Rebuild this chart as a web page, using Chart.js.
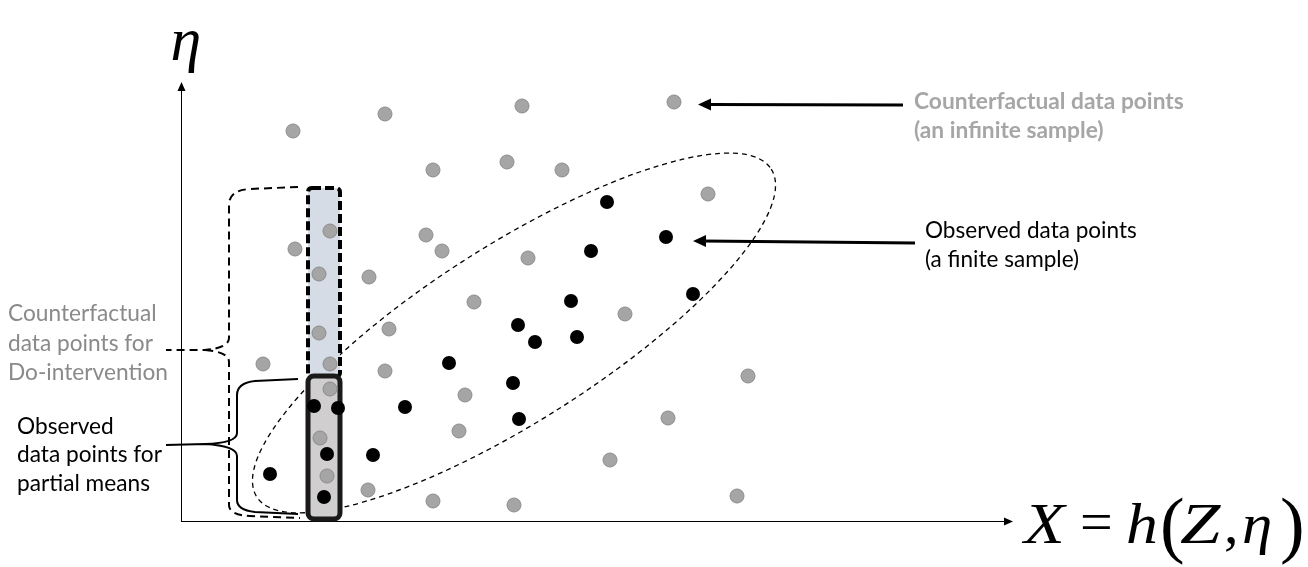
<!DOCTYPE html>
<html>
<head>
<meta charset="utf-8">
<script src="https://cdn.jsdelivr.net/npm/chart.js@4/dist/chart.umd.min.js"></script>
<style>
html,body{margin:0;padding:0;background:#fff;}
#wrap{width:1308px;height:567px;position:relative;}
</style>
</head>
<body>
<div id="wrap"><canvas id="c" width="1308" height="567"></canvas></div>
<script>
// Counterfactual (gray) sample: x = X value, y = eta value
const grayX = [112,204,341,493,252,326,381,527,114,149,245,261,347,138,188,293,444,138,208,82,149,204,149,284,567,278,487,139,429,146,187,252,333,556];
const grayY = [390,407,415,419,351,359,351,327,272,290,286,270,263,247,244,219,207,188,192,157,157,150,132,126,145,90,103,83,61,45,31,20,16,25];
// Observed (black) sample
const blackX = [426,485,410,512,390,337,354,396,268,332,133,157,224,338,146,192,89,143];
const blackY = [319,284,270,227,220,196,179,184,158,138,115,113,114,102,67,66,47,24];

const calloutInfinite = ["Counterfactual data points", "(an infinite sample)"];
const calloutFinite = ["Observed data points", "(a finite sample)"];
const labelDo = ["Counterfactual", "data points for", "Do-intervention"];
const labelPartial = ["Observed", "data points for", "partial means"];

const toPts = (xs, ys) => xs.map((x, i) => ({x: x, y: ys[i]}));

function fitFont(ctx, text, weight, family, targetW, base) {
  ctx.font = weight + ' ' + base + 'px ' + family;
  const w = ctx.measureText(text).width;
  return base * targetW / w;
}

function arrowHead(ctx, x, y, dir, len, half) {
  ctx.beginPath();
  ctx.moveTo(x, y);
  ctx.lineTo(x - len*Math.cos(dir) - half*Math.sin(dir), y - len*Math.sin(dir) + half*Math.cos(dir));
  ctx.lineTo(x - len*Math.cos(dir) + half*Math.sin(dir), y - len*Math.sin(dir) - half*Math.cos(dir));
  ctx.closePath();
  ctx.fill();
}

const decor = {
  id: 'decor',
  beforeDatasetsDraw(chart) {
    const ctx = chart.ctx;
    const xs = chart.scales.x, ys = chart.scales.y;
    const X = v => xs.getPixelForValue(v), Y = v => ys.getPixelForValue(v);
    ctx.save();
    // axes
    ctx.strokeStyle = '#000'; ctx.fillStyle = '#000'; ctx.lineWidth = 1;
    ctx.beginPath();
    ctx.moveTo(X(0)+0.5, Y(0)); ctx.lineTo(X(0)+0.5, 90);
    ctx.moveTo(X(0), Y(0)+0.5); ctx.lineTo(1005, Y(0)+0.5);
    ctx.stroke();
    arrowHead(ctx, X(0)+0.5, 82, -Math.PI/2, 9, 4);
    arrowHead(ctx, 1013, Y(0)+0.5, 0, 9, 4);

    // ellipse around observed sample
    ctx.beginPath();
    ctx.setLineDash([5,4]);
    ctx.lineWidth = 1.3;
    ctx.ellipse(X(333), Y(188), 305, 88, -32.5*Math.PI/180, 0, Math.PI*2);
    ctx.stroke();

    // dashed brace (do-intervention)
    ctx.setLineDash([8,5]);
    ctx.lineWidth = 2;
    ctx.beginPath();
    ctx.moveTo(298,187); ctx.lineTo(250,189);
    ctx.quadraticCurveTo(229,190,229,205);
    ctx.lineTo(229,338);
    ctx.quadraticCurveTo(229,348,205,350);
    ctx.lineTo(166,350);
    ctx.moveTo(205,350);
    ctx.quadraticCurveTo(229,352,229,362);
    ctx.lineTo(229,505);
    ctx.quadraticCurveTo(229,515,250,516);
    ctx.lineTo(300,518);
    ctx.stroke();

    // solid brace (partial means)
    ctx.setLineDash([]);
    ctx.lineWidth = 2;
    ctx.beginPath();
    ctx.moveTo(298,379); ctx.lineTo(255,381);
    ctx.quadraticCurveTo(237,383,237,395);
    ctx.lineTo(237,433);
    ctx.quadraticCurveTo(237,443,205,444);
    ctx.lineTo(166,445);
    ctx.moveTo(205,444);
    ctx.quadraticCurveTo(237,446,237,456);
    ctx.lineTo(237,500);
    ctx.quadraticCurveTo(237,510,255,512);
    ctx.lineTo(298,514);
    ctx.stroke();

    // column for do-intervention (blue, dashed)
    ctx.beginPath();
    ctx.roundRect(308,188,32,189,4);
    ctx.fillStyle = '#D6DCE5'; ctx.fill();
    ctx.setLineDash([9,4]); ctx.lineWidth = 4; ctx.strokeStyle = '#000';
    ctx.stroke();
    // column for partial means (gray, solid)
    ctx.beginPath();
    ctx.roundRect(308,376,32,143,6);
    ctx.fillStyle = '#D0CECE'; ctx.fill();
    ctx.setLineDash([]); ctx.lineWidth = 5; ctx.strokeStyle = '#1a1a1a';
    ctx.stroke();
    ctx.restore();
  },
  afterDatasetsDraw(chart) {
    const ctx = chart.ctx;
    ctx.save();
    ctx.fillStyle = '#000'; ctx.strokeStyle = '#000';
    // callout arrows
    ctx.lineWidth = 3;
    ctx.beginPath(); ctx.moveTo(903,105); ctx.lineTo(708,104.5); ctx.stroke();
    arrowHead(ctx, 698, 104.5, Math.PI, 13, 6);
    ctx.beginPath(); ctx.moveTo(915,243); ctx.lineTo(703,241); ctx.stroke();
    arrowHead(ctx, 693, 241, Math.PI, 13, 6);

    const fam = 'Lato, "Open Sans", sans-serif';
    ctx.textBaseline = 'middle';
    ctx.textAlign = 'left';
    // top-right callout (gray bold)
    let fs = fitFont(ctx, calloutInfinite[0], 'bold', fam, 270, 20);
    ctx.font = 'bold ' + fs + 'px ' + fam;
    ctx.fillStyle = '#A6A6A6';
    ctx.fillText(calloutInfinite[0], 914, 102);
    ctx.fillText(calloutInfinite[1], 914, 131);
    // observed callout
    fs = fitFont(ctx, calloutFinite[0], 'normal', fam, 212, 20);
    ctx.font = fs + 'px ' + fam;
    ctx.fillStyle = '#000';
    ctx.fillText(calloutFinite[0], 925, 231);
    ctx.fillText(calloutFinite[1], 925, 260);
    // left labels
    fs = fitFont(ctx, labelDo[2], 'normal', fam, 160, 20);
    ctx.font = fs + 'px ' + fam;
    ctx.fillStyle = '#8A8A8A';
    ctx.fillText(labelDo[0], 8, 314);
    ctx.fillText(labelDo[1], 8, 344);
    ctx.fillText(labelDo[2], 8, 373);
    fs = fitFont(ctx, labelPartial[1], 'normal', fam, 145, 20);
    ctx.font = fs + 'px ' + fam;
    ctx.fillStyle = '#000';
    ctx.fillText(labelPartial[0], 17, 427);
    ctx.fillText(labelPartial[1], 17, 455);
    ctx.fillText(labelPartial[2], 17, 484);

    // axis titles (math)
    ctx.textBaseline = 'alphabetic';
    ctx.font = 'italic 62px "Liberation Serif", "DejaVu Serif", serif';
    ctx.textAlign = 'center';
    ctx.fillText('\u03B7', 186, 60);

    ctx.textAlign = 'left';
    const it = 'italic 58px "Liberation Serif", serif';
    const up = '58px "Liberation Serif", serif';
    const par = '74px "Liberation Serif", serif';
    // [glyph, font, left x, baseline y, horizontal stretch]
    const parts = [['X', it, 1024, 543, 1.15], ['=', up, 1080, 541, 1.0], ['h', it, 1126, 543, 1.1], ['(', par, 1160, 549, 1],
                   ['Z', it, 1180, 543, 1.25], [',', up, 1224, 543, 1], ['\u03B7', it, 1242, 543, 1.05], [')', par, 1280, 549, 1]];
    parts.forEach(p => {
      ctx.font = p[1];
      ctx.save();
      ctx.translate(p[2], p[3]);
      ctx.scale(p[4], 1);
      ctx.fillText(p[0], 0, 0);
      ctx.restore();
    });
    ctx.restore();
  }
};

new Chart(document.getElementById('c'), {
  type: 'scatter',
  data: {
    datasets: [
      {label: 'Observed', data: toPts(blackX, blackY), pointRadius: 7, pointHoverRadius: 7,
       backgroundColor: '#000', borderColor: '#000', borderWidth: 0},
      {label: 'Counterfactual', data: toPts(grayX, grayY), pointRadius: 7, pointHoverRadius: 7,
       backgroundColor: '#A5A5A5', borderColor: '#8C8C8C', borderWidth: 1}
    ]
  },
  options: {
    responsive: false,
    animation: false,
    layout: {padding: {left: 181, right: 297, top: 75, bottom: 46}},
    scales: {
      x: {type: 'linear', display: false, min: 0, max: 830},
      y: {type: 'linear', display: false, min: 0, max: 446}
    },
    plugins: {legend: {display: false}, tooltip: {enabled: false}}
  },
  plugins: [decor]
});
</script>
</body>
</html>
